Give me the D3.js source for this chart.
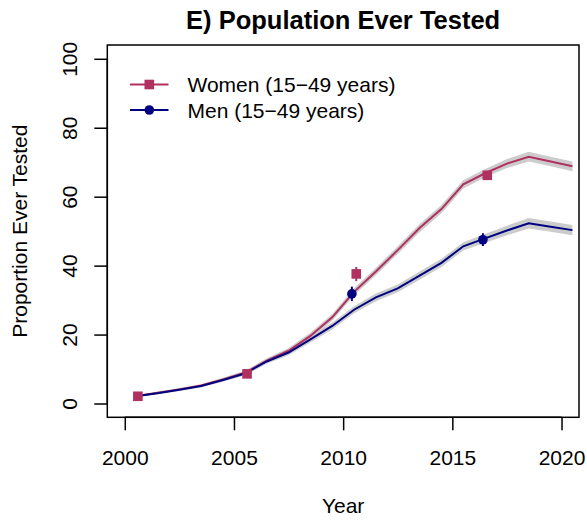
<!DOCTYPE html>
<html>
<head>
<meta charset="utf-8">
<script src="https://cdn.jsdelivr.net/npm/d3@7"></script>
<style>
  body { margin: 0; background: #fff; }
  svg { font-family: "Liberation Sans", Arial, sans-serif; }
</style>
</head>
<body>
<svg id="chart" width="587" height="520"></svg>
<script>
// model estimates, mid-year
var years    = [2000.5, 2001.5, 2002.5, 2003.5, 2004.5, 2005.5, 2006.5, 2007.5, 2008.5, 2009.5, 2010.5,
                2011.5, 2012.5, 2013.5, 2014.5, 2015.5, 2016.5, 2017.5, 2018.5, 2019.5, 2020.5];
var womenMid = [2.1, 3.1, 4.1, 5.2, 7.0, 8.9, 12.4, 15.3, 19.6, 25.0, 32.4,
                38.3, 44.5, 50.9, 56.4, 63.6, 66.8, 69.6, 71.6, 70.2, 68.8];
var womenLo  = [1.8, 2.8, 3.7, 4.8, 6.5, 8.3, 11.7, 14.5, 18.7, 24.0, 31.4,
                37.2, 43.4, 49.7, 55.2, 62.4, 65.6, 68.3, 70.2, 68.8, 67.4];
var womenHi  = [2.4, 3.4, 4.5, 5.6, 7.5, 9.5, 13.1, 16.1, 20.5, 26.0, 33.4,
                39.4, 45.6, 52.1, 57.6, 64.8, 68.0, 70.9, 73.0, 71.6, 70.2];
var menMid   = [2.1, 3.0, 4.0, 5.1, 6.8, 8.7, 12.2, 14.8, 18.6, 22.5, 27.2,
                30.8, 33.4, 37.1, 40.8, 45.6, 47.9, 50.2, 52.3, 51.3, 50.3];
var menLo    = [1.8, 2.7, 3.6, 4.7, 6.3, 8.1, 11.5, 14.0, 17.7, 21.5, 26.2,
                29.7, 32.3, 35.9, 39.6, 44.4, 46.6, 48.8, 50.8, 49.8, 48.8];
var menHi    = [2.4, 3.3, 4.4, 5.5, 7.3, 9.3, 12.9, 15.6, 19.5, 23.5, 28.2,
                31.9, 34.5, 38.3, 42.0, 46.8, 49.2, 51.6, 53.8, 52.8, 51.8];

// survey points with error bars
var womenSurveyYears = [2000.6, 2005.6, 2010.6, 2016.6];
var womenSurvey      = [2.1, 8.6, 37.6, 66.2];
var womenSurveyLo    = [1.8, 8.1, 35.5, 65.0];
var womenSurveyHi    = [2.4, 9.1, 39.6, 67.4];
var menSurveyYears = [2010.4, 2016.4];
var menSurvey      = [31.8, 47.5];
var menSurveyLo    = [29.7, 45.7];
var menSurveyHi    = [33.9, 49.4];

var xTicks = [2000, 2005, 2010, 2015, 2020];
var yTicks = [0, 20, 40, 60, 80, 100];
var legendLabels = ["Women (15\u221249 years)", "Men (15\u221249 years)"];

var WOMEN = "#B03060", MEN = "#000080", BAND = "#cccccc";
var FS = 21;

var svg = d3.select("#chart");
var L = 107.3, R = 579, T = 45, B = 417.3;

var x = d3.scaleLinear().domain([1999.2, 2020.8]).range([L, R]);
var y = d3.scaleLinear().domain([-4, 104]).range([B, T]);

// axes
var xAxis = d3.axisBottom(x).tickValues(xTicks).tickSize(13).tickFormat(d3.format("d"));
var yAxis = d3.axisLeft(y).tickValues(yTicks).tickSize(13).tickFormat(d3.format("d"));

var gx = svg.append("g").attr("transform", "translate(0," + B + ")").call(xAxis);
gx.select(".domain").attr("d", "M" + x(2000) + ",0H" + x(2020)).attr("stroke-width", 1.5);
gx.selectAll(".tick line").attr("stroke-width", 1.5);
gx.selectAll(".tick text").attr("font-size", FS).attr("fill", "#000").attr("y", 0).attr("dy", null)
  .attr("transform", "translate(0,48)");

var gy = svg.append("g").attr("transform", "translate(" + L + ",0)").call(yAxis);
gy.select(".domain").attr("d", "M0," + y(0) + "V" + y(100)).attr("stroke-width", 1.5);
gy.selectAll(".tick line").attr("stroke-width", 1.5);
gy.selectAll(".tick text").attr("font-size", FS).attr("fill", "#000")
  .attr("x", 0).attr("dy", null).attr("text-anchor", "middle")
  .attr("transform", "translate(-30,0) rotate(-90)");

// bands
var area = function (lo, hi) {
  return d3.area().x(function (d, i) { return x(years[i]); })
    .y0(function (d, i) { return y(lo[i]); })
    .y1(function (d, i) { return y(hi[i]); });
};
svg.append("path").datum(years).attr("d", area(womenLo, womenHi)).attr("fill", BAND);
svg.append("path").datum(years).attr("d", area(menLo, menHi)).attr("fill", BAND);

// lines
var line = function (vals) {
  return d3.line().x(function (d, i) { return x(years[i]); })
    .y(function (d, i) { return y(vals[i]); });
};
svg.append("path").datum(years).attr("d", line(womenMid)).attr("fill", "none")
  .attr("stroke", WOMEN).attr("stroke-width", 2);
svg.append("path").datum(years).attr("d", line(menMid)).attr("fill", "none")
  .attr("stroke", MEN).attr("stroke-width", 2);

// survey error bars + markers
womenSurveyYears.forEach(function (yr, i) {
  svg.append("line").attr("x1", x(yr)).attr("x2", x(yr))
    .attr("y1", y(womenSurveyLo[i])).attr("y2", y(womenSurveyHi[i]))
    .attr("stroke", WOMEN).attr("stroke-width", 2);
  svg.append("rect").attr("x", x(yr) - 4.8).attr("y", y(womenSurvey[i]) - 4.8)
    .attr("width", 9.6).attr("height", 9.6).attr("fill", WOMEN);
});
menSurveyYears.forEach(function (yr, i) {
  svg.append("line").attr("x1", x(yr)).attr("x2", x(yr))
    .attr("y1", y(menSurveyLo[i])).attr("y2", y(menSurveyHi[i]))
    .attr("stroke", MEN).attr("stroke-width", 2);
  svg.append("circle").attr("cx", x(yr)).attr("cy", y(menSurvey[i])).attr("r", 4.8).attr("fill", MEN);
});

// box
svg.append("rect").attr("x", L).attr("y", T).attr("width", R - L).attr("height", B - T)
  .attr("fill", "none").attr("stroke", "#000").attr("stroke-width", 1.5);

// legend
var legCols = [WOMEN, MEN];
legendLabels.forEach(function (lab, i) {
  var cy = 84.5 + i * 25.5;
  var g = svg.append("g");
  g.append("line").attr("x1", 130).attr("x2", 168.5).attr("y1", cy).attr("y2", cy)
    .attr("stroke", legCols[i]).attr("stroke-width", 2);
  if (i === 0) {
    g.append("rect").attr("x", 149.3 - 4.8).attr("y", cy - 4.8).attr("width", 9.6).attr("height", 9.6).attr("fill", WOMEN);
  } else {
    g.append("circle").attr("cx", 149.3).attr("cy", cy).attr("r", 4.8).attr("fill", MEN);
  }
  g.append("text").attr("x", 187.5).attr("y", cy + 7.5).attr("font-size", FS).text(lab);
});

// titles
svg.append("text").attr("x", (L + R) / 2).attr("y", 29).attr("text-anchor", "middle")
  .attr("font-size", 25.5).attr("font-weight", "bold").text("E) Population Ever Tested");
svg.append("text").attr("x", (L + R) / 2).attr("y", 513).attr("text-anchor", "middle")
  .attr("font-size", FS).text("Year");
svg.append("text").attr("transform", "translate(26.5," + ((T + B) / 2) + ") rotate(-90)")
  .attr("text-anchor", "middle").attr("font-size", FS).text("Proportion Ever Tested");
</script>
</body>
</html>
